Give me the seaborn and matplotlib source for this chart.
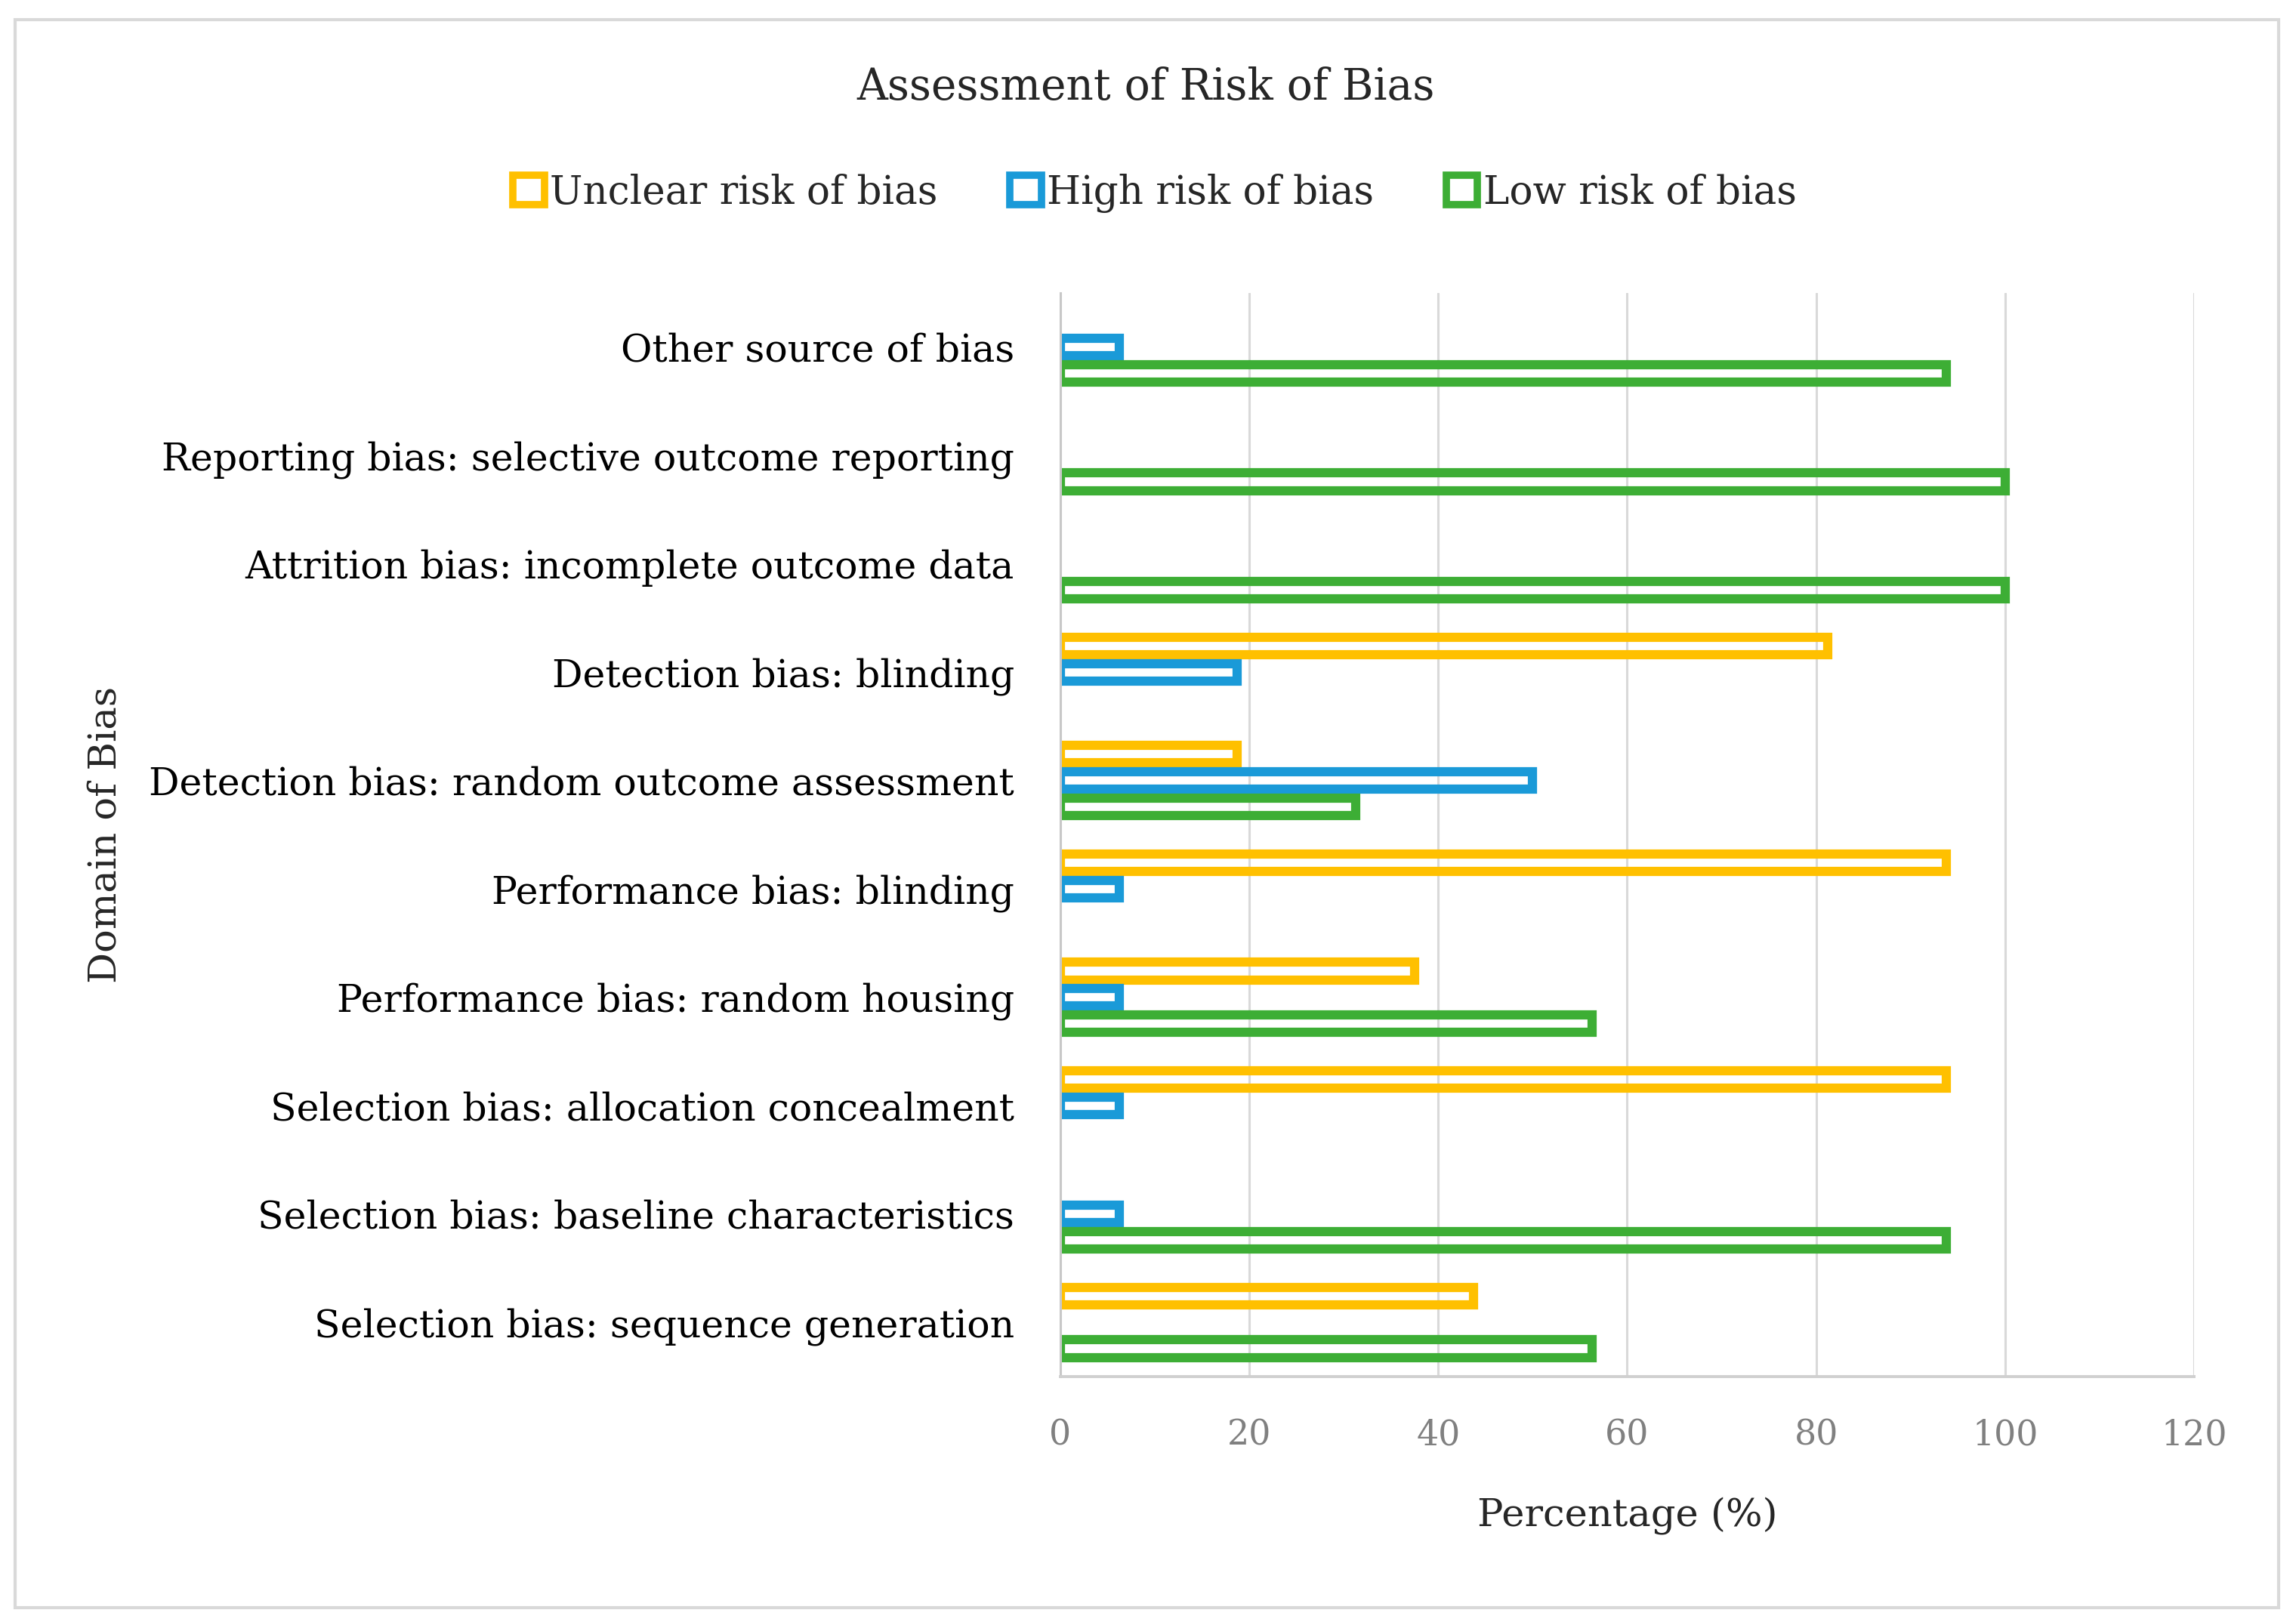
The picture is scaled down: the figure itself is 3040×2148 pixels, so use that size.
import matplotlib
matplotlib.use("Agg")
import matplotlib.pyplot as plt
from matplotlib.patches import Patch, Rectangle
import pandas as pd
import seaborn as sns

# domains, top to bottom
domains = [
    "Other source of bias",
    "Reporting bias: selective outcome reporting",
    "Attrition bias: incomplete outcome data",
    "Detection bias: blinding",
    "Detection bias: random outcome assessment",
    "Performance bias: blinding",
    "Performance bias: random housing",
    "Selection bias: allocation concealment",
    "Selection bias: baseline characteristics",
    "Selection bias: sequence generation",
]
risks = ["Unclear risk of bias", "High risk of bias", "Low risk of bias"]

unclear = [0, 0, 0, 81.25, 18.75, 93.75, 37.5, 93.75, 0, 43.75]
high = [6.25, 0, 0, 18.75, 50, 6.25, 6.25, 6.25, 6.25, 0]
low = [93.75, 100, 100, 0, 31.25, 0, 56.25, 0, 93.75, 56.25]

colors = ["#FFC000", "#1A9AD8", "#3DAE35"]

rows = []
for risk, vals in zip(risks, [unclear, high, low]):
    for d, v in zip(domains, vals):
        rows.append({"domain": d, "risk": risk, "value": v})
df = pd.DataFrame(rows)
df = df[df["value"] > 0]

sns.set_style("white")
plt.rcParams["font.family"] = ["DejaVu Serif"]

fig = plt.figure(figsize=(15.2, 10.74), dpi=200)
ax = fig.add_axes([0.4618, 0.1513, 0.4938, 0.6681])

sns.barplot(data=df, x="value", y="domain", hue="risk", order=domains,
            hue_order=risks, palette=colors, orient="h", fill=False,
            width=0.73, gap=0.33, linewidth=4.4, errorbar=None,
            legend=False, ax=ax)

ax.set_xlim(0, 120)
ax.set_xticks(range(0, 121, 20))
ax.grid(axis="x", color="#d9d9d9", linewidth=1.1)
ax.set_axisbelow(True)
for s in ["top", "right"]:
    ax.spines[s].set_visible(False)
ax.spines["left"].set_color("#c8c8c8")
ax.spines["left"].set_linewidth(1.1)
ax.spines["bottom"].set_color("#d0d0d0")
ax.spines["bottom"].set_linewidth(1.4)
ax.tick_params(axis="x", length=0, pad=20, labelsize=16.5, labelcolor="#808080")
ax.tick_params(axis="y", length=0, pad=22, labelsize=18.2, labelcolor="black")

ax.set_xlabel("Percentage (%)", fontsize=18.4, va="center")
ax.xaxis.set_label_coords(0.5, -0.128)
ax.set_ylabel("Domain of Bias", fontsize=18.4, va="center", ha="center")
ax.yaxis.set_label_coords(-0.842, 0.5)

fig.text(0.499, 0.946, "Assessment of Risk of Bias", ha="center", va="center",
         fontsize=20.4)

handles = [Patch(facecolor="white", edgecolor=c, linewidth=3.5) for c in colors]
fig.legend(handles, risks, loc="center", bbox_to_anchor=(0.503, 0.881), ncol=3,
           frameon=False, fontsize=18.6, handlelength=0.8, handleheight=0.8,
           handletextpad=0.15, columnspacing=1.85)

fig.patches.append(Rectangle((0.0065, 0.009), 0.986, 0.979, transform=fig.transFigure,
                             fill=False, edgecolor="#d9d9d9", linewidth=1.5))

fig.savefig("out.png", dpi=200)
